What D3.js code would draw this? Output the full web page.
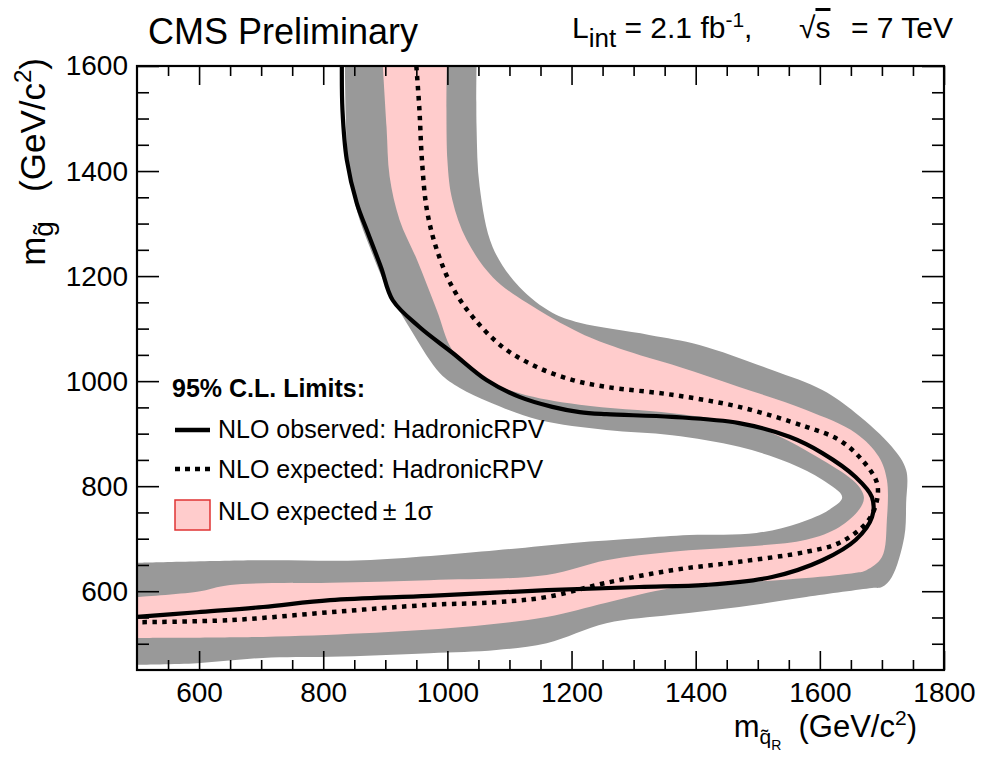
<!DOCTYPE html>
<html lang="en">
<head>
<meta charset="UTF-8">
<title>CMS Preliminary - HadronicRPV limits</title>
<script src="https://cdnjs.cloudflare.com/ajax/libs/d3/7.8.5/d3.min.js"></script>
<style>
body { margin: 0; background: #fff; }
svg { display: block; font-family: "Liberation Sans", Arial, Helvetica, sans-serif; }
.axis .tick line { stroke: #000; stroke-width: 1.6px; }
.axis text { fill: #000; font-size: 28px; }
.frame { fill: none; stroke: #000; stroke-width: 2.2px; }
</style>
</head>
<body>
<script>
// limit contours: [m_squark, m_gluino] in GeV/c^2
var observed = [[830,1600],[831,1516],[838,1421],[854,1339],[872,1282],[893,1217],[912,1154],
  [955,1103],[1008,1054],[1063,1002],[1116,970],[1169,951],[1213,941],[1256,937],[1362,932],
  [1470,920],[1551,894],[1604,863],[1658,817],[1684,779],[1684,741],[1658,698],[1604,659],
  [1523,627],[1417,612],[1309,608],[1160,602],[971,591],[811,583],[703,570],[597,560],[500,551]];

var expected = [[950,1600],[955,1516],[959,1421],[967,1326],[983,1250],[1008,1179],[1041,1122],
  [1089,1065],[1144,1027],[1202,1002],[1256,989],[1362,974],[1470,951],[1578,913],[1631,888],
  [1668,850],[1692,806],[1691,768],[1675,730],[1631,692],[1578,675],[1470,656],[1362,640],
  [1256,616],[1160,589],[1079,579],[971,574],[811,560],[650,545],[500,541]];

// +-1 sigma band edges (inner = left/lower side of the S, outer = right/upper side)
var sigma1Inner = [[896,1600],[902,1484],[907,1389],[923,1307],[951,1231],[983,1135],[1008,1059],
  [1052,1008],[1116,977],[1213,955],[1362,939],[1470,920],[1523,901],[1604,850],[1658,806],
  [1671,779],[1663,755],[1631,722],[1578,698],[1470,684],[1362,675],[1256,659],[1160,631],
  [971,621],[811,616],[650,612],[597,599],[500,589]];
var sigma1Outer = [[999,1600],[1000,1421],[1008,1345],[1031,1269],[1073,1198],[1128,1149],
  [1213,1092],[1277,1062],[1374,1027],[1470,989],[1578,945],[1658,901],[1695,856],[1708,812],
  [1708,736],[1700,665],[1675,640],[1658,635],[1578,625],[1470,616],[1362,606],[1256,578],
  [1160,551],[1025,532],[864,520],[703,513],[500,511]];

// +-2 sigma band edges (grey)
var sigma2Inner = [[835,1600],[840,1421],[854,1326],[875,1255],[902,1179],[944,1092],[988,1015],
  [1020,987],[1068,960],[1148,926],[1256,907],[1362,897],[1470,875],[1551,844],[1604,812],
  [1636,779],[1615,755],[1567,730],[1498,711],[1390,707],[1309,701],[1202,692],[1079,678],
  [864,659],[703,659],[500,654]];
var sigma2Outer = [[1047,1600],[1047,1484],[1052,1370],[1073,1255],[1116,1179],[1169,1130],
  [1213,1111],[1325,1088],[1406,1069],[1523,1021],[1604,983],[1658,939],[1716,875],[1739,831],
  [1739,768],[1736,703],[1716,627],[1700,608],[1684,606],[1578,589],[1470,570],[1362,555],
  [1256,539],[1160,501],[1079,488],[971,482],[811,475],[703,473],[597,463],[500,460]];

var xMajor = [600, 800, 1000, 1200, 1400, 1600, 1800];
var yMajor = [600, 800, 1000, 1200, 1400, 1600];
var legendLabels = ["NLO observed: HadronicRPV", "NLO expected: HadronicRPV", "NLO expected\u2009\u00b1 1\u03c3"];

var width = 982, height = 761;
var plotL = 137, plotR = 944, plotT = 66, plotB = 670;

var x = d3.scaleLinear().domain([500, 1800]).range([plotL, plotR]);
var y = d3.scaleLinear().domain([450, 1600]).range([plotB, plotT]);

var xMinor = d3.range(550, 1800, 50).filter(function (d) { return d % 200 !== 0; });
var yMinor = d3.range(500, 1600, 50).filter(function (d) { return d % 200 !== 0; });

var svg = d3.select("body").append("svg")
  .attr("width", width)
  .attr("height", height);

svg.append("clipPath").attr("id", "plot-clip")
  .append("rect")
  .attr("x", plotL).attr("y", plotT)
  .attr("width", plotR - plotL).attr("height", plotB - plotT);

var line = d3.line()
  .x(function (d) { return x(d[0]); })
  .y(function (d) { return y(d[1]); })
  .curve(d3.curveCatmullRom.alpha(0.5));

// band = one edge forward, the other edge backward
function bandPath(inner, outer) {
  var a = line(inner);
  var b = line(outer.slice().reverse());
  return a + "L" + b.slice(1) + "Z";
}

var plot = svg.append("g").attr("clip-path", "url(#plot-clip)");

plot.append("path")
  .attr("d", bandPath(sigma2Inner, sigma2Outer))
  .attr("fill", "#999999");

plot.append("path")
  .attr("d", bandPath(sigma1Inner, sigma1Outer))
  .attr("fill", "#ffcccc");

plot.append("path")
  .datum(expected)
  .attr("d", line)
  .attr("fill", "none")
  .attr("stroke", "#000")
  .attr("stroke-width", 4.5)
  .attr("stroke-dasharray", "4.5,5.5");

plot.append("path")
  .datum(observed)
  .attr("d", line)
  .attr("fill", "none")
  .attr("stroke", "#000")
  .attr("stroke-width", 4.2);

// **************** Axes ****************
function styleAxis(g) {
  g.select(".domain").remove();
  g.attr("font-family", null).attr("font-size", null).attr("class", "axis");
}

svg.append("g").attr("transform", "translate(0," + plotB + ")")
  .call(d3.axisBottom(x).tickValues(xMajor).tickSizeInner(-19).tickSizeOuter(0).tickPadding(12).tickFormat(d3.format("d")))
  .call(styleAxis);
svg.append("g").attr("transform", "translate(0," + plotB + ")")
  .call(d3.axisBottom(x).tickValues(xMinor).tickSizeInner(-10).tickSizeOuter(0).tickFormat(""))
  .call(styleAxis);
svg.append("g").attr("transform", "translate(0," + plotT + ")")
  .call(d3.axisTop(x).tickValues(xMajor).tickSizeInner(-19).tickSizeOuter(0).tickFormat(""))
  .call(styleAxis);
svg.append("g").attr("transform", "translate(0," + plotT + ")")
  .call(d3.axisTop(x).tickValues(xMinor).tickSizeInner(-10).tickSizeOuter(0).tickFormat(""))
  .call(styleAxis);

svg.append("g").attr("transform", "translate(" + plotL + ",0)")
  .call(d3.axisLeft(y).tickValues(yMajor).tickSizeInner(-22).tickSizeOuter(0).tickPadding(9).tickFormat(d3.format("d")))
  .call(styleAxis);
svg.append("g").attr("transform", "translate(" + plotL + ",0)")
  .call(d3.axisLeft(y).tickValues(yMinor).tickSizeInner(-12).tickSizeOuter(0).tickFormat(""))
  .call(styleAxis);
svg.append("g").attr("transform", "translate(" + plotR + ",0)")
  .call(d3.axisRight(y).tickValues(yMajor).tickSizeInner(-22).tickSizeOuter(0).tickFormat(""))
  .call(styleAxis);
svg.append("g").attr("transform", "translate(" + plotR + ",0)")
  .call(d3.axisRight(y).tickValues(yMinor).tickSizeInner(-12).tickSizeOuter(0).tickFormat(""))
  .call(styleAxis);

svg.append("rect").attr("class", "frame")
  .attr("x", plotL).attr("y", plotT)
  .attr("width", plotR - plotL).attr("height", plotB - plotT);

// axis titles
var xTitle = svg.append("text")
  .attr("x", 917).attr("y", 737)
  .attr("text-anchor", "end")
  .attr("font-size", 31);
xTitle.append("tspan").text("m");
xTitle.append("tspan").attr("font-size", 21).attr("dy", 7).text("q\u0303");
xTitle.append("tspan").attr("font-size", 14).attr("dy", 6).text("R");
xTitle.append("tspan").attr("dy", -13).text("\u00a0\u00a0(GeV/c");
xTitle.append("tspan").attr("font-size", 21).attr("dy", -12).text("2");
xTitle.append("tspan").attr("dy", 12).text(")");

var yTitle = svg.append("text")
  .attr("transform", "translate(45,58) rotate(-90)")
  .attr("text-anchor", "end")
  .attr("font-size", 35);
yTitle.append("tspan").text("m");
yTitle.append("tspan").attr("font-size", 28).attr("dy", 8).text("g\u0303");
yTitle.append("tspan").attr("dy", -8).text("\u00a0\u00a0\u00a0(GeV/c");
yTitle.append("tspan").attr("font-size", 24).attr("dy", -14).text("2");
yTitle.append("tspan").attr("dy", 14).text(")");

// header texts
svg.append("text")
  .attr("x", 148).attr("y", 44)
  .attr("font-size", 36)
  .text("CMS Preliminary");

var lumi = svg.append("text")
  .attr("x", 572).attr("y", 38)
  .attr("font-size", 30);
lumi.append("tspan").text("L");
lumi.append("tspan").attr("font-size", 26).attr("dy", 9).text("int");
lumi.append("tspan").attr("dy", -9).text(" = 2.1 fb");
lumi.append("tspan").attr("font-size", 21).attr("dy", -11).text("-1");
lumi.append("tspan").attr("dy", 11).text(",");

var energy = svg.append("text")
  .attr("x", 799).attr("y", 38)
  .attr("font-size", 30);
energy.append("tspan").text("\u221a");
energy.append("tspan").style("text-decoration", "overline").text("s");

svg.append("text")
  .attr("x", 953).attr("y", 38)
  .attr("text-anchor", "end")
  .attr("font-size", 30)
  .text("=\u00a07 TeV");

// **************** Legend ****************
var legend = svg.append("g").attr("font-size", 25);

legend.append("text")
  .attr("x", 172).attr("y", 397)
  .attr("font-weight", "bold")
  .text("95% C.L. Limits:");

var rowY = [438, 478, 520];
legend.selectAll("text.entry")
  .data(legendLabels)
  .enter().append("text")
  .attr("class", "entry")
  .attr("x", 218)
  .attr("y", function (d, i) { return rowY[i]; })
  .text(function (d) { return d; });

legend.append("line")
  .attr("x1", 175).attr("x2", 210)
  .attr("y1", 430).attr("y2", 430)
  .attr("stroke", "#000").attr("stroke-width", 4.5);

legend.append("line")
  .attr("x1", 175).attr("x2", 212)
  .attr("y1", 469).attr("y2", 469)
  .attr("stroke", "#000").attr("stroke-width", 4.5)
  .attr("stroke-dasharray", "5,5");

legend.append("rect")
  .attr("x", 175).attr("y", 500)
  .attr("width", 35).attr("height", 30)
  .attr("fill", "#ffcccc")
  .attr("stroke", "#e03333")
  .attr("stroke-width", 1.5);
</script>
</body>
</html>
